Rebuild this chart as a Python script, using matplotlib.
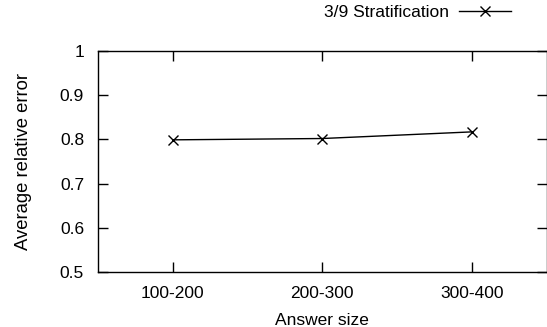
import matplotlib
matplotlib.use("Agg")
import matplotlib.pyplot as plt

categories = ["100-200", "200-300", "300-400"]
values = [0.799, 0.802, 0.817]
series_name = "3/9 Stratification"
yticks = [0.5, 0.6, 0.7, 0.8, 0.9, 1.0]
ytick_labels = ["0.5", "0.6", "0.7", "0.8", "0.9", "1"]

plt.rcParams['font.family'] = ['Liberation Sans', 'DejaVu Sans']
plt.rcParams['font.size'] = 12.5

fig = plt.figure(figsize=(5.47, 3.27), dpi=100)
ax = fig.add_axes([98/547, 1-272/327, (546.5-98)/547, (272-51)/327])
x = list(range(len(categories)))
line, = ax.plot(x, values, color='black', lw=1, marker='x', ms=7, mew=1, label=series_name)
ax.set_xlim(-0.5, 2.5)
ax.set_ylim(0.5, 1.0)
ax.set_xticks(x)
ax.set_xticklabels(categories)
ax.set_yticks(yticks)
ax.set_yticklabels(ytick_labels)
ax.tick_params(direction='in', top=True, right=True, length=7, width=1)
ax.tick_params(axis='x', pad=10)
ax.tick_params(axis='y', pad=10)
for s in ax.spines.values():
    s.set_linewidth(1)
ax.set_xlabel("Answer size", labelpad=9)
ax.set_ylabel("Average relative error", labelpad=20, fontsize=13.3)
leg = fig.legend(handles=[line], loc='upper right', bbox_to_anchor=(518/547, 1.006),
                 frameon=False, markerfirst=False, handlelength=3.0, borderaxespad=0.0,
                 handletextpad=0.6)
fig.savefig("out.png", dpi=100)
